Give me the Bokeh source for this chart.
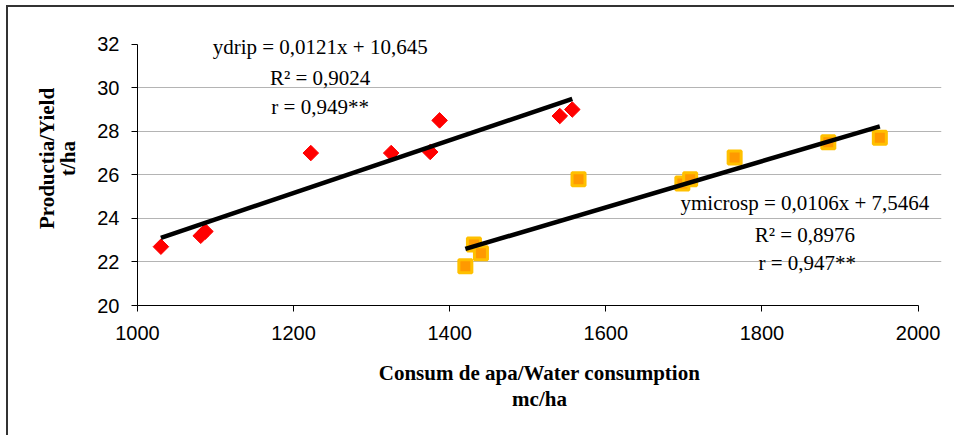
import numpy as np
from bokeh.plotting import figure
from bokeh.models import Range1d, FixedTicker, Label
from bokeh.embed import file_html
from bokeh.resources import INLINE

# ---- data ----
drip_x = [1030, 1081, 1087, 1222, 1325, 1375, 1387, 1541, 1557]
drip_y = [22.7, 23.2, 23.4, 27.0, 27.0, 27.05, 28.5, 28.7, 29.0]
micro_x = [1420, 1431, 1440, 1565, 1698, 1708, 1765, 1885, 1951]
micro_y = [21.8, 22.8, 22.4, 25.8, 25.6, 25.8, 26.8, 27.5, 27.7]

drip_slope, drip_intercept = 0.0121, 10.645
micro_slope, micro_intercept = 0.0106, 7.5464

drip_labels = ["ydrip = 0,0121x + 10,645", "R\u00b2 = 0,9024", "r = 0,949**"]
drip_label_x = [1234, 1234, 1234]
drip_label_y = [31.85, 30.45, 29.1]
micro_labels = ["ymicrosp = 0,0106x + 7,5464", "R\u00b2 = 0,8976", "r = 0,947**"]
micro_label_x = [1855, 1855, 1858]
micro_label_y = [24.7, 23.22, 21.94]

x_ticks = [1000, 1200, 1400, 1600, 1800, 2000]
y_ticks = [20, 22, 24, 26, 28, 30, 32]
y_grid = [22, 24, 26, 28, 30]
x_bounds = (1000, 2000)
y_bounds = (20, 32)

x_title = "Consum de apa/Water consumption\nmc/ha"
y_title = "Productia/Yield\nt/ha"

# ---- figure (frame padded beyond the axes so the equation texts are not clipped) ----
p = figure(frame_width=804, frame_height=294,
           min_border_left=129, min_border_right=13,
           min_border_top=4, min_border_bottom=130,
           x_range=Range1d(1000, 2030), y_range=Range1d(20, 33.5),
           output_backend="svg", toolbar_location=None)
p.styles = {"border-top": "2px solid #333333", "border-left": "2px solid #333333",
            "margin-top": "5px", "margin-left": "6px"}
p.outline_line_color = None
p.background_fill_color = "white"
p.border_fill_color = "white"

p.xaxis.ticker = FixedTicker(ticks=x_ticks)
p.yaxis.ticker = FixedTicker(ticks=y_ticks)
p.xaxis.bounds = x_bounds
p.yaxis.bounds = y_bounds
p.xgrid.visible = False
p.ygrid.ticker = FixedTicker(ticks=y_grid)
p.ygrid.bounds = x_bounds
p.ygrid.grid_line_color = "#b4b4b4"
p.ygrid.grid_line_width = 1

for ax in (p.xaxis[0], p.yaxis[0]):
    ax.axis_line_color = "black"
    ax.major_tick_line_color = "black"
    ax.major_tick_out = 6
    ax.major_tick_in = 0
    ax.minor_tick_line_color = None
    ax.major_label_text_font = "Liberation Sans"
    ax.major_label_text_font_size = "20px"
    ax.major_label_text_color = "black"
    ax.axis_label_text_font = "Liberation Serif"
    ax.axis_label_text_font_style = "bold"
    ax.axis_label_text_font_size = "21px"
    ax.axis_label_text_color = "black"

p.xaxis.axis_label_text_line_height = 1.1
p.yaxis.axis_label_text_line_height = 0.9
p.xaxis.major_label_standoff = 14
p.yaxis.major_label_standoff = 12
p.xaxis.axis_label = x_title
p.yaxis.axis_label = y_title
p.xaxis.axis_label_standoff = 18
p.yaxis.axis_label_standoff = 14

# ---- markers ----
p.scatter(drip_x, drip_y, marker="square", angle=np.pi / 4, size=11,
          fill_color="#ff0000", line_color="#ff0000", line_width=1)
p.scatter(micro_x, micro_y, marker="square", size=13,
          fill_color="#ff9900", line_color="#ffc000", line_width=3)

# ---- trendlines ----
dx = [min(drip_x), max(drip_x)]
p.line(dx, [drip_slope * v + drip_intercept for v in dx], line_color="black", line_width=4.5)
mx = [min(micro_x), max(micro_x)]
p.line(mx, [micro_slope * v + micro_intercept for v in mx], line_color="black", line_width=4.5)

# ---- equation labels ----
for xs, ys, ts in ((drip_label_x, drip_label_y, drip_labels),
                   (micro_label_x, micro_label_y, micro_labels)):
    for xv, yv, tv in zip(xs, ys, ts):
        p.add_layout(Label(x=xv, y=yv, text=tv, text_align="center",
                           text_baseline="middle", text_font="Liberation Serif",
                           text_font_size="21px", text_color="black"))

open("out.html", "w").write(file_html(p, INLINE))
